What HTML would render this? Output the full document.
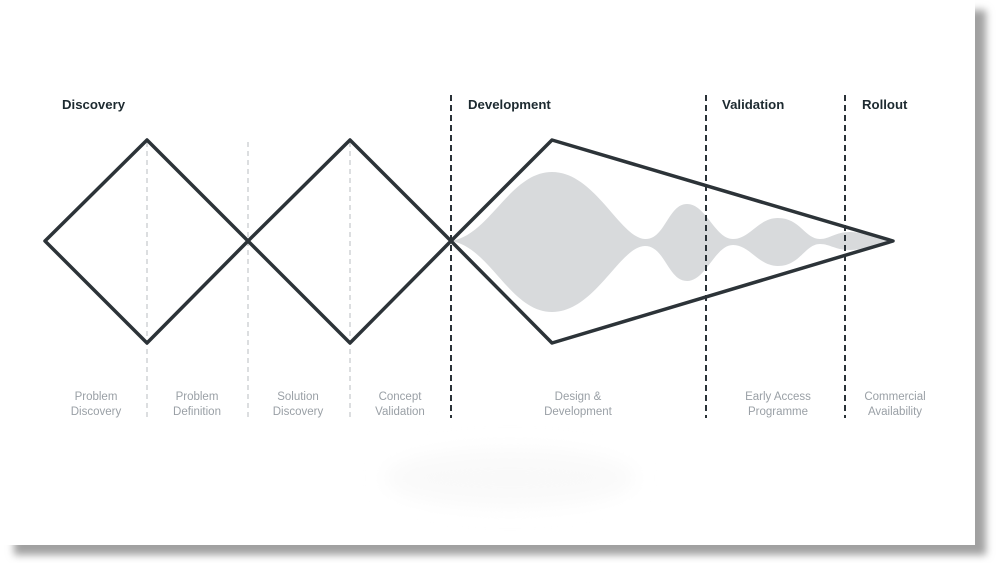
<!DOCTYPE html>
<html><head><meta charset="utf-8"><style>
html,body{margin:0;padding:0;background:#fff;}
body{width:1000px;height:563px;position:relative;overflow:hidden;font-family:"Liberation Sans",sans-serif;}
</style></head><body>
<svg width="1000" height="563" viewBox="0 0 1000 563" xmlns="http://www.w3.org/2000/svg">
<defs>
<filter id="b" x="-20%" y="-20%" width="140%" height="140%"><feGaussianBlur stdDeviation="4"/></filter>
<filter id="b2" x="-30%" y="-50%" width="160%" height="200%"><feGaussianBlur stdDeviation="10"/></filter>
</defs>
<rect x="14" y="10" width="972" height="545" fill="#a0a0a0" filter="url(#b)"/>
<rect x="0" y="0" width="975" height="545" fill="#fff"/>
<ellipse cx="510" cy="478" rx="125" ry="28" fill="#f9f9f9" filter="url(#b2)"/>
<g stroke="#c4c8cb" stroke-width="1.2" stroke-dasharray="5,4">
<line x1="147" y1="142" x2="147" y2="418"/>
<line x1="248" y1="142" x2="248" y2="418"/>
<line x1="350" y1="142" x2="350" y2="418"/>
</g>
<path fill="#d8dadc" d="M451,241 C490,235 510,172 552,172 C595,172 620,238 645,239 C665,240 668,204 687,204 C706,204 715,239 733,239 C750,239 758,218 778,218 C800,218 805,239 820,239 C830,239 835,232 850,232 C865,232 880,240 890,241 C880,242 865,250 850,250 C835,250 830,244 820,244 C805,244 800,266 778,266 C758,266 750,245 733,245 C715,245 706,281 687,281 C668,281 665,246 645,246 C620,246 595,312 552,312 C510,312 490,247 451,241 Z"/>
<g stroke="#2a3238" stroke-width="2" stroke-dasharray="6,4">
<line x1="451" y1="95" x2="451" y2="418"/>
<line x1="706" y1="95" x2="706" y2="418"/>
<line x1="845" y1="95" x2="845" y2="418"/>
</g>
<g fill="none" stroke="#2c3338" stroke-width="3.5" stroke-linejoin="round">
<polygon points="45,241 147,140 248,241 147,343"/>
<polygon points="248,241 350,140 451,241 350,343"/>
<polygon points="451,241 552,140 893,241 552,343"/>
</g>
<g font-family="Liberation Sans, sans-serif" font-weight="bold" font-size="13.2" fill="#1d2a30">
<text x="62" y="109">Discovery</text>
<text x="468" y="109">Development</text>
<text x="722" y="109">Validation</text>
<text x="862" y="109">Rollout</text>
</g>
<g font-family="Liberation Sans, sans-serif" font-size="11.5" fill="#9aa0a6" text-anchor="middle">
<text x="96" y="400">Problem</text><text x="96" y="415">Discovery</text>
<text x="197" y="400">Problem</text><text x="197" y="415">Definition</text>
<text x="298" y="400">Solution</text><text x="298" y="415">Discovery</text>
<text x="400" y="400">Concept</text><text x="400" y="415">Validation</text>
<text x="578" y="400">Design &amp;</text><text x="578" y="415">Development</text>
<text x="778" y="400">Early Access</text><text x="778" y="415">Programme</text>
<text x="895" y="400">Commercial</text><text x="895" y="415">Availability</text>
</g>
</svg>
</body></html>
